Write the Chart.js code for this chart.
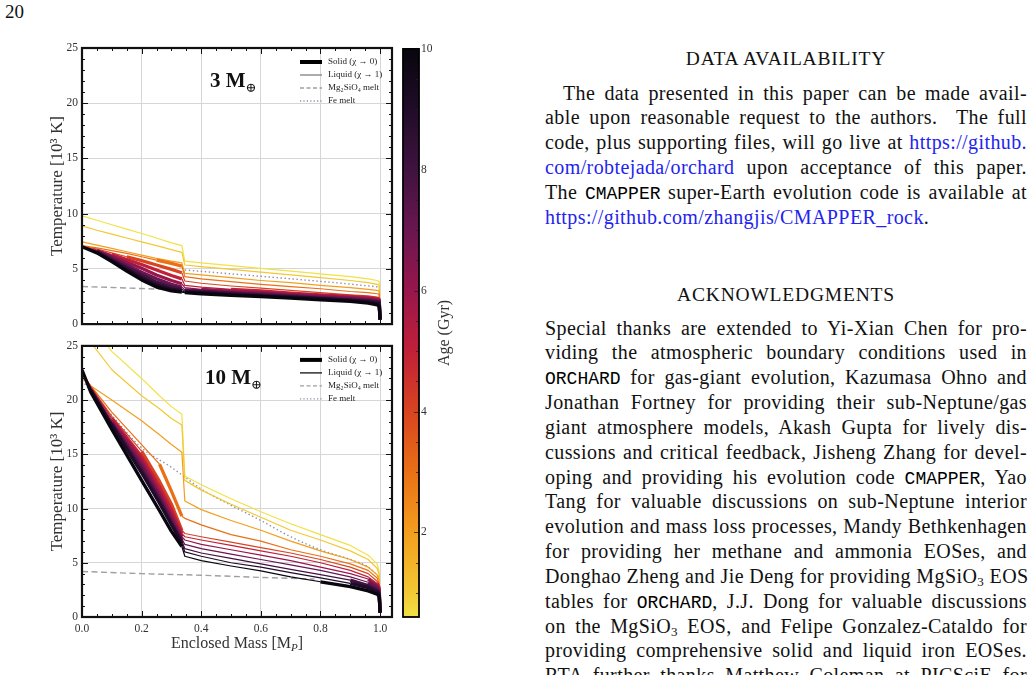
<!DOCTYPE html>
<html>
<head>
<meta charset="utf-8">
<script src="https://cdn.jsdelivr.net/npm/chart.js@4.4.1/dist/chart.umd.min.js"></script>
<style>
  body { margin: 0; width: 1034px; height: 675px; overflow: hidden; position: relative; background: #fff;
         font-family: "Liberation Serif", "DejaVu Serif", serif; color: #111; }
  canvas { position: absolute; }
  #pg { position: absolute; left: 5px; top: 0px; font-size: 19px; line-height: 24px; }
  .hd { position: absolute; left: 545px; width: 482px; text-align: center; font-size: 19.5px; letter-spacing: 0.8px; line-height: 24.85px; }
  .col { position: absolute; left: 545px; width: 482px; font-size: 20px; letter-spacing: 0.4px; line-height: 24.85px; }
  .col > div { height: 24.85px; overflow: visible; }
  .j { text-align: justify; text-align-last: justify; white-space: nowrap; }
  a { color: #2323ee; text-decoration: none; }
  tt { font-family: "Liberation Mono", "DejaVu Sans Mono", monospace; font-size: 18px; letter-spacing: 0; line-height: 0; color: #000; }
  sub { font-size: 13px; line-height: 0; vertical-align: -3px; }
</style>
</head>
<body>
<div id="pg">20</div>

<canvas id="top" width="400" height="335" style="left:0;top:0"></canvas>
<canvas id="bottom" width="400" height="340" style="left:0;top:335px"></canvas>
<canvas id="cbar" width="125" height="590" style="left:395px;top:40px"></canvas>

<div class="hd" style="top:46.5px">DATA AVAILABILITY</div>
<div class="col" style="top:80.5px">
  <div class="j" style="text-indent:18px">The data presented in this paper can be made avail-</div>
  <div class="j">able upon reasonable request to the authors.&nbsp; The full</div>
  <div class="j">code, plus supporting files, will go live at <a>https://github.</a></div>
  <div class="j"><a>com/robtejada/orchard</a> upon acceptance of this paper.</div>
  <div class="j">The <tt>CMAPPER</tt> super-Earth evolution code is available at</div>
  <div><a>https://github.com/zhangjis/CMAPPER_rock</a>.</div>
</div>

<div class="hd" style="top:282.5px">ACKNOWLEDGMENTS</div>
<div class="col" style="top:315.5px">
  <div class="j">Special thanks are extended to Yi-Xian Chen for pro-</div>
  <div class="j">viding the atmospheric boundary conditions used in</div>
  <div class="j"><tt>ORCHARD</tt> for gas-giant evolution, Kazumasa Ohno and</div>
  <div class="j">Jonathan Fortney for providing their sub-Neptune/gas</div>
  <div class="j">giant atmosphere models, Akash Gupta for lively dis-</div>
  <div class="j">cussions and critical feedback, Jisheng Zhang for devel-</div>
  <div class="j">oping and providing his evolution code <tt>CMAPPER</tt>, Yao</div>
  <div class="j">Tang for valuable discussions on sub-Neptune interior</div>
  <div class="j">evolution and mass loss processes, Mandy Bethkenhagen</div>
  <div class="j">for providing her methane and ammonia EOSes, and</div>
  <div class="j">Donghao Zheng and Jie Deng for providing MgSiO<sub>3</sub> EOS</div>
  <div class="j">tables for <tt>ORCHARD</tt>, J.J. Dong for valuable discussions</div>
  <div class="j">on the MgSiO<sub>3</sub> EOS, and Felipe Gonzalez-Cataldo for</div>
  <div class="j">providing comprehensive solid and liquid iron EOSes.</div>
  <div class="j">RTA further thanks Matthew Coleman at PICSciE for</div>
</div>

<script>
// ages of the profiles (Gyr), colour bar range and ticks
const ages = [0.6, 1, 2, 3, 4, 5, 6, 7, 8, 9, 10];
const ageMin = 0.6, ageMax = 10;
const ageTicks = [2, 4, 6, 8, 10];
const xTicks = [0, 0.2, 0.4, 0.6, 0.8, 1.0];
const yTicks = [0, 5, 10, 15, 20, 25];
const xMax = 1.04;

// ---- 3 M_earth ----
const coreMass3 = [0, 0.05, 0.1, 0.15, 0.2, 0.25, 0.3, 0.335];
const coreTemp3 = [
  [9.8, 9.4, 9.0, 8.6, 8.2, 7.8, 7.35, 7.1],
  [8.9, 8.5, 8.15, 7.8, 7.45, 7.1, 6.75, 6.5],
  [7.45, 7.15, 6.85, 6.55, 6.25, 5.95, 5.7, 5.55],
  [7.1, 6.9, 6.65, 6.4, 6.1, 5.8, 5.5, 5.25],
  [7.05, 6.8, 6.45, 6.1, 5.75, 5.35, 4.95, 4.65],
  [7.0, 6.7, 6.3, 5.85, 5.4, 4.9, 4.4, 4.1],
  [7.0, 6.65, 6.15, 5.6, 5.05, 4.45, 3.95, 3.65],
  [7.0, 6.6, 6.0, 5.35, 4.7, 4.1, 3.6, 3.35],
  [7.0, 6.55, 5.85, 5.15, 4.45, 3.8, 3.35, 3.15],
  [7.0, 6.5, 5.75, 4.95, 4.2, 3.55, 3.15, 3.0],
  [7.0, 6.45, 5.65, 4.8, 4.0, 3.35, 3.0, 2.9]
];
const mantleMass3 = [0.345, 0.4, 0.5, 0.6, 0.7, 0.8, 0.9, 0.96, 0.99, 0.997, 1.0];
const mantleTemp3 = [
  [5.7, 5.55, 5.3, 5.05, 4.8, 4.55, 4.3, 4.1, 3.95, 3.85, 0.4],
  [5.35, 5.2, 4.95, 4.7, 4.45, 4.2, 3.95, 3.75, 3.6, 3.5, 0.4],
  [4.6, 4.45, 4.2, 3.95, 3.75, 3.5, 3.3, 3.15, 3.05, 3.0, 0.4],
  [4.3, 4.1, 3.85, 3.6, 3.4, 3.2, 2.95, 2.85, 2.75, 2.7, 0.4],
  [3.9, 3.7, 3.45, 3.25, 3.05, 2.85, 2.65, 2.55, 2.45, 2.4, 0.4],
  [3.5, 3.35, 3.15, 3.0, 2.8, 2.65, 2.5, 2.4, 2.3, 2.25, 0.4],
  [3.3, 3.15, 3.0, 2.85, 2.7, 2.55, 2.4, 2.3, 2.2, 2.15, 0.4],
  [3.1, 3.0, 2.85, 2.75, 2.6, 2.45, 2.3, 2.2, 2.1, 2.05, 0.4],
  [3.0, 2.95, 2.8, 2.65, 2.5, 2.35, 2.2, 2.1, 2.0, 1.95, 0.4],
  [2.9, 2.85, 2.7, 2.55, 2.45, 2.3, 2.15, 2.0, 1.9, 1.85, 0.4],
  [2.85, 2.75, 2.6, 2.5, 2.35, 2.2, 2.05, 1.9, 1.75, 1.6, 0.4]
];
// mass above which each profile is solid (null = liquid throughout)
const solidCore3 = [null, null, null, 0.22, 0.15, 0.1, 0.05, 0.03, 0.02, 0.01, 0];
const solidMantle3 = [null, null, null, null, null, 0.5, 0.4, 0.345, 0.345, 0.345, 0.345];
const mgMeltMass3 = [0, 0.1, 0.2, 0.335];
const mgMeltTemp3 = [3.4, 3.32, 3.22, 3.1];
const feMeltMass3 = [0.345, 0.5, 0.7, 0.85, 1.0];
const feMeltTemp3 = [4.9, 4.55, 4.1, 3.75, 3.35];

// ---- 10 M_earth ----
const coreMass10 = [0, 0.03, 0.1, 0.2, 0.26, 0.3, 0.335];
const coreTemp10 = [
  [28.0, 26.9, 24.5, 22.0, 20.4, 19.4, 18.7],
  [26.8, 25.3, 22.8, 20.4, 19.2, 18.3, 17.7],
  [22.0, 21.3, 20.0, 18.1, 16.8, 15.9, 15.2],
  [22.4, 21.3, 18.9, 15.9, 14.1, 11.6, 9.3],
  [22.5, 21.2, 18.5, 15.3, 12.5, 10.4, 8.0],
  [22.6, 21.2, 18.3, 14.8, 12.0, 9.9, 7.7],
  [22.6, 21.1, 18.1, 14.4, 11.5, 9.4, 7.4],
  [22.7, 21.0, 17.9, 14.0, 11.1, 9.0, 7.2],
  [22.7, 21.0, 17.8, 13.6, 10.8, 8.7, 7.0],
  [22.8, 20.9, 17.7, 13.3, 10.5, 8.5, 6.8],
  [22.8, 20.7, 17.3, 12.6, 9.8, 7.9, 6.5]
];
const mantleMass10 = [0.345, 0.4, 0.5, 0.6, 0.7, 0.8, 0.9, 0.96, 0.99, 0.997, 1.0];
const mantleTemp10 = [
  [13.0, 12.2, 10.9, 9.7, 8.6, 7.6, 6.6, 5.7, 4.9, 4.2, 0.4],
  [12.6, 11.7, 10.4, 9.2, 8.0, 7.1, 6.1, 5.3, 4.5, 3.9, 0.4],
  [10.7, 9.9, 8.9, 8.0, 7.0, 6.1, 5.3, 4.6, 3.9, 3.4, 0.4],
  [9.1, 8.5, 7.6, 7.0, 6.2, 5.6, 4.9, 4.3, 3.6, 3.1, 0.4],
  [7.7, 7.4, 6.9, 6.4, 5.9, 5.3, 4.6, 4.0, 3.3, 2.9, 0.4],
  [7.4, 7.1, 6.6, 6.1, 5.6, 5.0, 4.3, 3.7, 3.1, 2.7, 0.4],
  [7.1, 6.7, 6.2, 5.7, 5.2, 4.6, 4.0, 3.5, 2.9, 2.5, 0.4],
  [6.7, 6.3, 5.8, 5.3, 4.8, 4.3, 3.7, 3.2, 2.7, 2.3, 0.4],
  [6.3, 5.9, 5.4, 4.9, 4.4, 3.9, 3.4, 2.9, 2.5, 2.2, 0.4],
  [6.0, 5.6, 5.0, 4.6, 4.1, 3.6, 3.1, 2.7, 2.3, 2.1, 0.4],
  [5.6, 5.2, 4.7, 4.25, 3.7, 3.25, 2.8, 2.4, 2.1, 1.9, 0.4]
];
const solidCore10 = [null, null, null, 0.26, 0.15, 0.1, 0.08, 0.06, 0.04, 0.02, 0];
const solidMantle10 = [null, null, null, null, null, 0.97, 0.95, 0.93, 0.9, 0.85, 0.75];
const mgMeltMass10 = [0, 0.2, 0.4, 0.6, 0.78];
const mgMeltTemp10 = [4.2, 4.0, 3.85, 3.65, 3.5];
const feMeltMass10 = [0, 0.1, 0.2, 0.3, 0.345, 0.4, 0.5, 0.6, 0.7, 0.8, 0.9, 0.96, 1.0];
const feMeltTemp10 = [21.8, 18.6, 15.6, 13.8, 12.9, 11.8, 10.3, 8.9, 7.4, 6.2, 5.3, 4.6, 3.6];

// colour map (young = yellow, old = black)
const cmapAge = [0.6, 1, 2, 3, 4, 5, 6, 7, 8, 9, 10];
const cmapRgb = [
  [240, 226, 70], [243, 200, 52], [243, 158, 30], [233, 112, 22], [216, 68, 32], [192, 32, 56],
  [152, 22, 76], [106, 22, 80], [64, 18, 64], [32, 12, 40], [8, 6, 14]
];
function ageColor(age) {
  let i = 0;
  while (i < cmapAge.length - 2 && age > cmapAge[i + 1]) i++;
  const u = Math.max(0, Math.min(1, (age - cmapAge[i]) / (cmapAge[i + 1] - cmapAge[i])));
  const a = cmapRgb[i], b = cmapRgb[i + 1];
  return 'rgb(' + a.map((v, k) => Math.round(v + (b[k] - v) * u)).join(',') + ')';
}

const FONT = '"Liberation Serif", "DejaVu Serif", serif';
const THICK = 3.3, THIN = 1.2;

function profileSets(coreM, coreT, mantM, mantT, solidC, solidM) {
  return ages.map((age, i) => {
    const pts = coreM.map((m, k) => ({ x: m, y: coreT[i][k] }))
      .concat(mantM.map((m, k) => ({ x: m, y: mantT[i][k] })));
    return {
      data: pts,
      borderColor: ageColor(age),
      borderWidth: THIN,
      pointRadius: 0,
      tension: 0,
      borderJoinStyle: 'round',
      order: ages.length - 1 - i,
      segment: {
        borderWidth: ctx => {
          const m = ctx.p0.parsed.x;
          const lim = m < 0.34 ? solidC[i] : solidM[i];
          if (m >= 0.334 && m < 0.344) return THIN;
          return (lim !== null && m >= lim - 1e-6) ? THICK : THIN;
        }
      }
    };
  });
}

function meltSet(mass, temp, color, dash) {
  return {
    data: mass.map((m, k) => ({ x: m, y: temp[k] })),
    borderColor: color, borderWidth: 1.4, borderDash: dash,
    pointRadius: 0, order: 20, cubicInterpolationMode: 'monotone'
  };
}

const DASH = [6, 3.5], DOT = [1.4, 2.6];
const MG_COLOR = '#a0a0a0', FE_COLOR = '#8a8ea6';

const panelPlugin = {
  id: 'panel',
  afterDraw(chart, args, o) {
    const { ctx, chartArea: a, scales: { x, y } } = chart;
    ctx.save();
    // inward ticks on all four sides
    ctx.strokeStyle = '#111';
    ctx.lineWidth = 1;
    ctx.beginPath();
    for (let k = 0; k * 0.05 <= xMax + 1e-9; k++) {
      const px = Math.round(x.getPixelForValue(k * 0.05)) + 0.5;
      const L = k % 4 === 0 ? 6 : 3;
      ctx.moveTo(px, a.bottom); ctx.lineTo(px, a.bottom - L);
      ctx.moveTo(px, a.top); ctx.lineTo(px, a.top + L);
    }
    for (let v = 0; v <= 25; v++) {
      const py = Math.round(y.getPixelForValue(v)) + 0.5;
      const L = v % 5 === 0 ? 6 : 3;
      ctx.moveTo(a.left, py); ctx.lineTo(a.left + L, py);
      ctx.moveTo(a.right, py); ctx.lineTo(a.right - L, py);
    }
    ctx.stroke();
    ctx.lineWidth = 2.2;
    ctx.strokeRect(a.left, a.top, a.right - a.left, a.bottom - a.top);

    // planet mass label
    ctx.fillStyle = '#111';
    ctx.textBaseline = 'alphabetic';
    ctx.font = 'bold 21px ' + FONT;
    ctx.fillText(o.label + ' M', o.lx, a.top + o.ly);
    const w = ctx.measureText(o.label + ' M').width;
    ctx.font = '13px ' + FONT;
    ctx.fillText('\u2295', o.lx + w, a.top + o.ly + 5);

    // legend
    const items = [
      { t: 'Solid (\u03c7 \u2192 0)', c: '#000', w: 4, d: [] },
      { t: 'Liquid (\u03c7 \u2192 1)', c: o.liquidColor, w: 1.3, d: [] },
      { t: 'Mg\u2082SiO\u2084 melt', c: MG_COLOR, w: 1.4, d: [4, 2.5] },
      { t: 'Fe melt', c: FE_COLOR, w: 1.4, d: [1.2, 2.2] }
    ];
    ctx.font = '9px ' + FONT;
    ctx.textBaseline = 'middle';
    items.forEach((it, k) => {
      const ry = a.top + 14 + k * 13;
      ctx.beginPath();
      ctx.setLineDash(it.d);
      ctx.strokeStyle = it.c;
      ctx.lineWidth = it.w;
      ctx.moveTo(300, ry); ctx.lineTo(322, ry);
      ctx.stroke();
      ctx.setLineDash([]);
      ctx.fillStyle = '#222';
      ctx.fillText(it.t, 328, ry);
    });

    // x axis title with subscript
    if (o.xTitle) {
      const cy = a.bottom + 26;
      ctx.fillStyle = '#333';
      ctx.textBaseline = 'alphabetic';
      ctx.font = '16px ' + FONT;
      const s1 = 'Enclosed Mass [M', s3 = ']';
      const w1 = ctx.measureText(s1).width, w3 = ctx.measureText(s3).width;
      ctx.font = 'italic 11px ' + FONT;
      const w2 = ctx.measureText('P').width;
      let sx = (a.left + a.right) / 2 - (w1 + w2 + w3) / 2;
      ctx.font = '16px ' + FONT;
      ctx.fillText(s1, sx, cy + 5);
      ctx.font = 'italic 11px ' + FONT;
      ctx.fillText('P', sx + w1, cy + 8);
      ctx.font = '16px ' + FONT;
      ctx.fillText(s3, sx + w1 + w2, cy + 5);
    }
    ctx.restore();
  }
};

function panelOptions(pad, xHeight, showX, label, lx, ly, liquidColor) {
  return {
    animation: false, responsive: false, devicePixelRatio: 1,
    layout: { padding: pad },
    plugins: {
      legend: { display: false }, tooltip: { enabled: false },
      panel: { label, lx, ly, liquidColor, xTitle: showX }
    },
    scales: {
      x: {
        type: 'linear', min: 0, max: xMax,
        afterBuildTicks: s => { s.ticks = xTicks.map(v => ({ value: v })); },
        afterFit: s => { s.height = xHeight; },
        grid: { color: '#d6d6d6', lineWidth: 1, drawTicks: false },
        border: { display: false },
        ticks: { display: showX, padding: 5, color: '#333', font: { family: FONT, size: 11.5 },
                 callback: v => v.toFixed(1) }
      },
      y: {
        min: 0, max: 25,
        afterBuildTicks: s => { s.ticks = yTicks.map(v => ({ value: v })); },
        afterFit: s => { s.width = 38; },
        grid: { color: '#d6d6d6', lineWidth: 1, drawTicks: false },
        border: { display: false },
        ticks: { padding: 4, color: '#333', font: { family: FONT, size: 11.5 } },
        title: { display: true, text: 'Temperature [10\u00b3 K]', color: '#333',
                 font: { family: FONT, size: 17 }, padding: { top: 3, bottom: 0 } }
      }
    }
  };
}

new Chart(document.getElementById('top'), {
  type: 'line',
  data: {
    datasets: profileSets(coreMass3, coreTemp3, mantleMass3, mantleTemp3, solidCore3, solidMantle3)
      .concat([meltSet(mgMeltMass3, mgMeltTemp3, MG_COLOR, DASH), meltSet(feMeltMass3, feMeltTemp3, FE_COLOR, DOT)])
  },
  options: panelOptions({ left: 44, top: 48, right: 8, bottom: 0 }, 9, false, '3', 210, 39, '#808080'),
  plugins: [panelPlugin]
});

new Chart(document.getElementById('bottom'), {
  type: 'line',
  data: {
    datasets: profileSets(coreMass10, coreTemp10, mantleMass10, mantleTemp10, solidCore10, solidMantle10)
      .concat([meltSet(mgMeltMass10, mgMeltTemp10, MG_COLOR, DASH), meltSet(feMeltMass10, feMeltTemp10, FE_COLOR, DOT)])
  },
  options: panelOptions({ left: 44, top: 5, right: 8, bottom: 0 }, 58, true, '10', 205, 38, '#111'),
  plugins: [panelPlugin]
});

// colour bar
const cbarPlugin = {
  id: 'cbarFrame',
  afterDraw(chart) {
    const { ctx, chartArea: a, scales: { y } } = chart;
    ctx.save();
    ctx.strokeStyle = '#222';
    ctx.lineWidth = 0.8;
    ctx.beginPath();
    for (let k = 2; k * 0.5 <= ageMax + 1e-9; k++) {
      const py = Math.round(y.getPixelForValue(k * 0.5)) + 0.5;
      const L = k % 4 === 0 ? 5 : 3;
      ctx.moveTo(a.right, py); ctx.lineTo(a.right - L, py);
    }
    ctx.stroke();
    ctx.lineWidth = 1.8;
    ctx.strokeStyle = '#000';
    ctx.strokeRect(a.left, a.top, a.right - a.left, a.bottom - a.top);
    ctx.translate(50, (a.top + a.bottom) / 2);
    ctx.rotate(-Math.PI / 2);
    ctx.fillStyle = '#333';
    ctx.font = '16px ' + FONT;
    ctx.textAlign = 'center';
    ctx.textBaseline = 'middle';
    ctx.fillText('Age (Gyr)', 0, 0);
    ctx.restore();
  }
};

new Chart(document.getElementById('cbar'), {
  type: 'bar',
  data: {
    labels: ['Age'],
    datasets: [{
      data: [[ageMin, ageMax]],
      barPercentage: 1, categoryPercentage: 1, borderWidth: 0,
      backgroundColor: ctx => {
        const a = ctx.chart.chartArea;
        if (!a) return '#000';
        const g = ctx.chart.ctx.createLinearGradient(0, a.bottom, 0, a.top);
        cmapAge.forEach(v => g.addColorStop((v - ageMin) / (ageMax - ageMin), ageColor(v)));
        return g;
      }
    }]
  },
  options: {
    animation: false, responsive: false, devicePixelRatio: 1,
    layout: { padding: { left: 8, top: 8, bottom: 13, right: 61 } },
    plugins: { legend: { display: false }, tooltip: { enabled: false } },
    scales: {
      x: { display: false },
      y: {
        position: 'right', min: ageMin, max: ageMax,
        afterBuildTicks: s => { s.ticks = ageTicks.map(v => ({ value: v })); },
        afterFit: s => { s.width = 40; },
        grid: { display: false, drawTicks: false },
        border: { display: false },
        ticks: { padding: 2, color: '#333', font: { family: FONT, size: 11.5 } }
      }
    }
  },
  plugins: [cbarPlugin]
});
</script>
</body>
</html>
